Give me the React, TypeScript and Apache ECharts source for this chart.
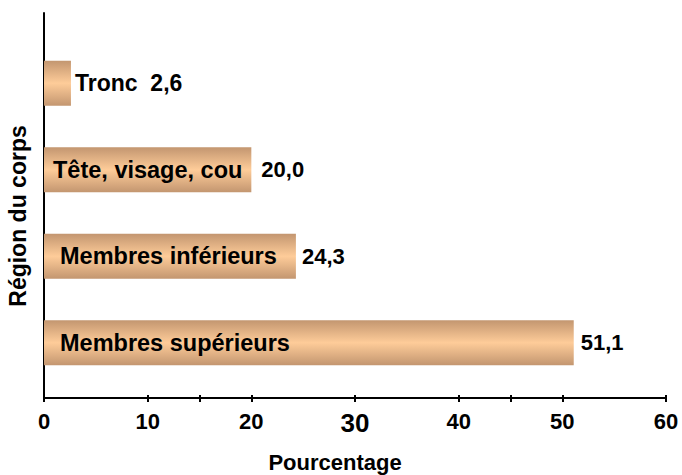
import React, { useEffect, useRef } from "react";
import * as echarts from "echarts";

const categories = ["Tronc", "Tête, visage, cou", "Membres inférieurs", "Membres supérieurs"];
const values = [2.6, 20.0, 24.3, 51.1];
const xTicks = [0, 10, 20, 30, 40, 50, 60];
const xAxisTitle = "Pourcentage";
const yAxisTitle = "Région du corps";

const FONT = "'Liberation Sans', Arial, Helvetica, sans-serif";
const fmt = (v: number) => v.toFixed(1).replace(".", ",");

export default function App() {
  const ref = useRef<HTMLDivElement>(null);
  useEffect(() => {
    if (!ref.current) return;
    const chart = echarts.init(ref.current, null, { renderer: "svg" });
    const barColor = new echarts.graphic.LinearGradient(0, 0, 0, 1, [
      { offset: 0, color: "#C39670" },
      { offset: 0.5, color: "#FECC99" },
      { offset: 1, color: "#C39670" },
    ]);
    const nameDistances = [0, 9, 16, 16];
    const valueDistances = [4, 10, 6, 7];
    const tickAxis = (interval: number, inside: boolean, len: number) => ({
      type: "value",
      gridIndex: 1,
      min: 0,
      max: 60,
      interval,
      position: "bottom",
      axisLine: { show: false },
      axisTick: { show: true, inside, length: len, lineStyle: { color: "#000", width: 2 } },
      axisLabel: { show: false },
      splitLine: { show: false },
    });
    chart.setOption({
      animation: false,
      backgroundColor: "#fff",
      grid: [
        { left: 44, right: 16, top: 40, height: 346, containLabel: false },
        { left: 44, right: 16, top: 13, bottom: 77, containLabel: false },
      ],
      xAxis: [
        { type: "value", gridIndex: 0, min: 0, max: 60, show: false },
        {
          type: "value",
          gridIndex: 1,
          min: 0,
          max: 60,
          interval: 10,
          position: "bottom",
          axisLine: { show: true, lineStyle: { color: "#000", width: 2 } },
          axisTick: { show: true, length: 4, lineStyle: { color: "#000", width: 2 } },
          splitLine: { show: false },
          axisLabel: {
            margin: 12,
            color: "#000",
            fontFamily: FONT,
            fontWeight: "bold",
            fontSize: 22,
            formatter: (v: number) => (xTicks.includes(v) ? (v === 30 ? "{big|" + v + "}" : String(v)) : ""),
            rich: { big: { fontSize: 26, fontWeight: "bold", fontFamily: FONT, color: "#000" } },
          },
        },
        tickAxis(10, true, 3),
        tickAxis(15, false, 4),
        tickAxis(15, true, 3),
      ],
      yAxis: [
        { type: "category", gridIndex: 0, data: categories, inverse: true, show: false },
        {
          type: "value",
          gridIndex: 1,
          min: 0,
          max: 1,
          axisLine: { show: true, lineStyle: { color: "#000", width: 2 } },
          axisTick: { show: false },
          axisLabel: { show: false },
          splitLine: { show: false },
        },
      ],
      graphic: [
        {
          type: "text",
          x: 18,
          y: 216,
          rotation: Math.PI / 2,
          style: {
            text: yAxisTitle,
            fill: "#000",
            font: "bold 23px " + FONT,
            textAlign: "center",
            textVerticalAlign: "middle",
          },
        },
        {
          type: "text",
          x: 335,
          y: 462,
          style: {
            text: xAxisTitle,
            fill: "#000",
            font: "bold 22px " + FONT,
            textAlign: "center",
            textVerticalAlign: "middle",
          },
        },
      ],
      series: [
        {
          type: "bar",
          xAxisIndex: 0,
          yAxisIndex: 0,
          barWidth: 45,
          itemStyle: { color: barColor },
          data: values.map((v, i) => ({
            value: v,
            label:
              i === 0
                ? { formatter: categories[i] + "  " + fmt(v), distance: valueDistances[i], fontSize: 23 }
                : { formatter: fmt(v), distance: valueDistances[i] },
          })),
          label: {
            show: true,
            position: "right",
            color: "#000",
            fontFamily: FONT,
            fontWeight: "bold",
            fontSize: 22,
          },
        },
        {
          type: "bar",
          xAxisIndex: 0,
          yAxisIndex: 0,
          barWidth: 45,
          barGap: "-100%",
          itemStyle: { color: "rgba(0,0,0,0)" },
          silent: true,
          data: values.map((v, i) => ({
            value: v,
            label: { show: i !== 0, distance: nameDistances[i] },
          })),
          label: {
            position: "insideLeft",
            formatter: (p: any) => p.name,
            color: "#000",
            fontFamily: FONT,
            fontWeight: "bold",
            fontSize: 23.5,
          },
        },
      ],
    });
    return () => chart.dispose();
  }, []);
  return <div ref={ref} style={{ position: "fixed", left: 0, top: 0, width: 682, height: 475 }} />;
}
